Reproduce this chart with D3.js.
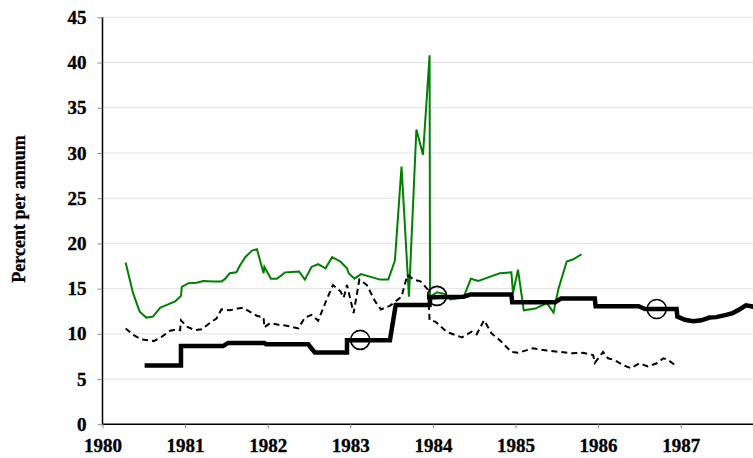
<!DOCTYPE html>
<html>
<head>
<meta charset="utf-8">
<script src="https://cdnjs.cloudflare.com/ajax/libs/d3/7.8.5/d3.min.js"></script>
<style>
  body { margin: 0; background: #fff; }
</style>
</head>
<body>
<script>
var width = 753,
    height = 458;

var FONT = "'Liberation Serif', 'Times New Roman', Times, serif";

// y ticks and x ticks
var yTicks = [0, 5, 10, 15, 20, 25, 30, 35, 40, 45];
var xTicks = [1980, 1981, 1982, 1983, 1984, 1985, 1986, 1987];

// green series [year, percent]
var greenSeries = [
  [1980.28, 17.9], [1980.37, 14.5], [1980.45, 12.45], [1980.53, 11.8], [1980.61, 11.9],
  [1980.70, 12.9], [1980.78, 13.2], [1980.88, 13.6], [1980.95, 14.2], [1980.96, 15.2],
  [1981.04, 15.6], [1981.14, 15.65], [1981.22, 15.85], [1981.34, 15.8], [1981.44, 15.8],
  [1981.48, 16.05], [1981.54, 16.7], [1981.62, 16.8], [1981.66, 17.5], [1981.73, 18.5],
  [1981.81, 19.2], [1981.87, 19.35], [1981.95, 16.7], [1981.96, 17.4], [1982.04, 16.1],
  [1982.11, 16.1], [1982.21, 16.8], [1982.29, 16.85], [1982.38, 16.9], [1982.45, 16.0],
  [1982.53, 17.4], [1982.61, 17.7], [1982.70, 17.25], [1982.78, 18.5], [1982.88, 18.0],
  [1982.96, 17.25], [1982.98, 16.7], [1983.05, 16.1], [1983.13, 16.6], [1983.36, 16.0],
  [1983.46, 16.0], [1983.54, 18.1], [1983.62, 28.5], [1983.71, 14.1], [1983.80, 32.6],
  [1983.88, 29.8], [1983.96, 40.8], [1983.965, 14.1], [1984.05, 14.6], [1984.15, 14.4],
  [1984.21, 13.8], [1984.37, 14.0], [1984.46, 16.1], [1984.55, 15.85], [1984.67, 16.25],
  [1984.81, 16.7], [1984.95, 16.8], [1984.97, 14.5], [1985.03, 17.1], [1985.10, 12.6],
  [1985.24, 12.8], [1985.38, 13.4], [1985.46, 12.35], [1985.52, 15.0], [1985.62, 18.0],
  [1985.70, 18.25], [1985.80, 18.8]
];

// dashed series [year, percent]
var dashedSeries = [
  [1980.28, 10.6], [1980.37, 9.9], [1980.47, 9.4], [1980.62, 9.2], [1980.72, 9.7],
  [1980.82, 10.35], [1980.90, 10.5], [1980.94, 10.4], [1980.95, 11.5], [1981.02, 10.8],
  [1981.12, 10.4], [1981.20, 10.5], [1981.30, 11.2], [1981.38, 11.7], [1981.44, 12.7],
  [1981.54, 12.6], [1981.64, 12.8], [1981.70, 12.9], [1981.87, 12.0], [1981.95, 11.8],
  [1981.96, 10.7], [1982.03, 11.2], [1982.13, 11.0], [1982.23, 10.9], [1982.37, 10.6],
  [1982.45, 11.8], [1982.53, 12.1], [1982.61, 11.45], [1982.71, 13.7], [1982.79, 15.4],
  [1982.88, 14.7], [1982.92, 14.0], [1982.96, 15.4], [1983.04, 12.3], [1983.11, 16.0],
  [1983.20, 15.4], [1983.30, 13.6], [1983.37, 12.7], [1983.48, 13.1], [1983.62, 14.1],
  [1983.69, 16.5], [1983.77, 16.0], [1983.85, 15.8], [1983.94, 14.9], [1983.96, 11.5],
  [1984.03, 11.35], [1984.17, 10.2], [1984.35, 9.6], [1984.47, 10.25], [1984.53, 9.95],
  [1984.62, 11.5], [1984.71, 10.05], [1984.81, 9.3], [1984.95, 8.0], [1985.03, 7.9],
  [1985.21, 8.4], [1985.38, 8.15], [1985.54, 8.0], [1985.68, 7.85], [1985.82, 7.9],
  [1985.94, 7.65], [1985.96, 6.8], [1986.06, 8.0], [1986.12, 7.3], [1986.20, 7.1],
  [1986.30, 6.55], [1986.40, 6.2], [1986.50, 6.75], [1986.60, 6.4], [1986.71, 6.75],
  [1986.79, 7.3], [1986.85, 7.1], [1986.93, 6.55]
];

// thick step series [year, percent]
var stepSeries = [
  [1980.51, 6.5], [1980.95, 6.5], [1980.95, 8.65], [1981.46, 8.65], [1981.52, 9.0],
  [1981.96, 9.0], [1981.98, 8.85], [1982.49, 8.85], [1982.57, 7.95], [1982.96, 7.95],
  [1982.96, 9.3], [1983.48, 9.3], [1983.55, 13.2], [1983.96, 13.2], [1983.97, 14.05],
  [1984.37, 14.1], [1984.45, 14.35], [1984.95, 14.35], [1984.96, 13.5], [1985.48, 13.5],
  [1985.55, 13.9], [1985.96, 13.9], [1985.97, 13.05], [1986.49, 13.05], [1986.57, 12.75],
  [1986.95, 12.75], [1986.96, 11.9], [1987.05, 11.55], [1987.15, 11.4], [1987.25, 11.5],
  [1987.35, 11.8], [1987.43, 11.85], [1987.55, 12.1], [1987.63, 12.3], [1987.71, 12.7],
  [1987.79, 13.15], [1987.88, 13.0]
];

// circle markers [year, percent]
var markers = [[1983.12, 9.33], [1984.05, 14.2], [1986.71, 12.75]];

var x = d3.scaleLinear().domain([1980, 1988]).range([102.5, 763.3]);
var y = d3.scaleLinear().domain([0, 45]).range([424.3, 17.3]);

var svg = d3.select("body").append("svg")
    .attr("width", width)
    .attr("height", height);

// grid
svg.append("g").selectAll("line")
    .data(yTicks.filter(function(d) { return d > 0; }))
  .enter().append("line")
    .attr("x1", x(1980)).attr("x2", width)
    .attr("y1", function(d) { return y(d); })
    .attr("y2", function(d) { return y(d); })
    .attr("stroke", "#c4c4c4")
    .attr("stroke-width", 1)
    .attr("stroke-dasharray", "1,1");

// axes
var yAxis = d3.axisLeft(y).tickValues(yTicks).tickSize(5).tickPadding(11);
var xAxis = d3.axisBottom(x).tickValues(xTicks).tickFormat(d3.format("d")).tickSize(4).tickPadding(10);

function styleAxis(g) {
  g.attr("font-family", null).attr("font-size", null);
  g.selectAll("text")
      .style("font-family", FONT)
      .style("font-weight", "bold")
      .style("font-size", "19px")
      .attr("fill", "#000")
      .attr("stroke", "#000")
      .attr("stroke-width", 0.35);
  g.selectAll(".tick line").attr("stroke", "#888");
}

svg.append("g")
    .attr("transform", "translate(" + x(1980) + ",0)")
    .call(yAxis)
    .call(function(g) {
      g.select(".domain").attr("d", "M0," + y(45) + "V" + y(0));
      styleAxis(g);
    });

svg.append("g")
    .attr("transform", "translate(0," + y(0) + ")")
    .call(xAxis)
    .call(function(g) {
      g.select(".domain").attr("d", "M" + x(1980) + ",0H" + width);
      styleAxis(g);
    });

svg.selectAll(".domain").attr("stroke", "#000").attr("stroke-width", 1.5);

var line = d3.line()
    .x(function(d) { return x(d[0]); })
    .y(function(d) { return y(d[1]); });

svg.append("path")
    .datum(greenSeries)
    .attr("d", line)
    .attr("fill", "none")
    .attr("stroke", "#008000")
    .attr("stroke-width", 2);

svg.append("path")
    .datum(dashedSeries)
    .attr("d", line)
    .attr("fill", "none")
    .attr("stroke", "#000")
    .attr("stroke-width", 2)
    .attr("stroke-dasharray", "6,4");

svg.append("path")
    .datum(stepSeries)
    .attr("d", line)
    .attr("fill", "none")
    .attr("stroke", "#000")
    .attr("stroke-width", 4.5);

svg.append("g").selectAll("circle")
    .data(markers)
  .enter().append("circle")
    .attr("cx", function(d) { return x(d[0]); })
    .attr("cy", function(d) { return y(d[1]); })
    .attr("r", 9.5)
    .attr("fill", "none")
    .attr("stroke", "#000")
    .attr("stroke-width", 1.6);

// y label
svg.append("text")
    .attr("transform", "translate(25,209) rotate(-90)")
    .attr("text-anchor", "middle")
    .style("font-family", FONT)
    .style("font-weight", "bold")
    .style("font-size", "18px")
    .attr("stroke", "#000")
    .attr("stroke-width", 0.3)
    .text("Percent per annum");
</script>
</body>
</html>
